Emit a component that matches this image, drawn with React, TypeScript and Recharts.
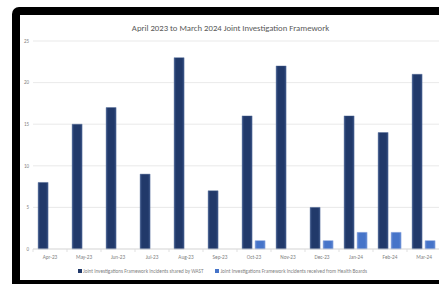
import React from 'react';
import { BarChart, Bar, XAxis, YAxis, CartesianGrid } from 'recharts';

const months = ['Apr-23', 'May-23', 'Jun-23', 'Jul-23', 'Aug-23', 'Sep-23', 'Oct-23', 'Nov-23', 'Dec-23', 'Jan-24', 'Feb-24', 'Mar-24'];
const sharedByWast = [8, 15, 17, 9, 23, 7, 16, 22, 5, 16, 14, 21];
const fromHealthBoards = [0, 0, 0, 0, 0, 0, 1, 0, 1, 2, 2, 1];
const yTicks = [0, 5, 10, 15, 20, 25];
const seriesNames = [
  'Joint Investigations Framework Incidents shared by WAST',
  'Joint Investigations Framework Incidents received from Health Boards',
];
const seriesColors = ['#21396a', '#4674c9'];

const data = months.map((m, i) => ({ month: m, wast: sharedByWast[i], hb: fromHealthBoards[i] }));

const FONT = 'Carlito, "Liberation Sans Narrow", Lato, "Open Sans", sans-serif';

const XTick = (props: any) => {
  const { x, y, payload } = props;
  const off = payload.offset || 0;
  return (
    <g>
      <line x1={x - off} y1={y} x2={x - off} y2={y + 3} stroke="#d9d9d9" strokeWidth={0.8} />
      <text x={x} y={y + 10} textAnchor="middle" fontSize={5.3} fill="#7f7f7f" fontFamily={FONT}>
        {payload.value}
      </text>
    </g>
  );
};

export default function App() {
  return (
    <div style={{ position: 'fixed', left: 0, top: 0, width: 439, height: 285, background: '#fff', overflow: 'hidden' }}>
      <style>{`html,body{margin:0;overflow:hidden;}`}</style>
      {/* frame: left bar, top band, bottom band */}
      <div style={{ position: 'absolute', left: 12, top: 7, width: 40, height: 277, background: '#000', borderTopLeftRadius: 7 }} />
      <div style={{ position: 'absolute', left: 40, top: 7, width: 399, height: 8, background: '#000' }} />
      <div style={{ position: 'absolute', left: 40, top: 280, width: 399, height: 4, background: '#000' }} />
      <div style={{ position: 'absolute', left: 20, top: 15, width: 419, height: 265, background: '#fff', overflow: 'hidden' }}>
        <div style={{ position: 'absolute', left: 0, top: 7, width: 421, textAlign: 'center', fontFamily: FONT, fontSize: 8.7, color: '#595959', lineHeight: '12px' }}>
          April 2023 to March 2024 Joint Investigation Framework
        </div>
        <BarChart
          width={421}
          height={265}
          data={data}
          margin={{ top: 26, right: 0, bottom: 1, left: 0 }}
          barCategoryGap="15%"
          barGap={3}
        >
          <defs>
            <linearGradient id="gDark" x1="0" y1="0" x2="1" y2="0">
              <stop offset="0" stopColor="#3b5588" />
              <stop offset="0.2" stopColor="#21396a" />
              <stop offset="0.8" stopColor="#21396a" />
              <stop offset="1" stopColor="#3b5588" />
            </linearGradient>
            <linearGradient id="gLight" x1="0" y1="0" x2="1" y2="0">
              <stop offset="0" stopColor="#6a8fd6" />
              <stop offset="0.2" stopColor="#4674c9" />
              <stop offset="0.8" stopColor="#4674c9" />
              <stop offset="1" stopColor="#6a8fd6" />
            </linearGradient>
          </defs>
          <CartesianGrid vertical={false} stroke="#e3e3e3" strokeWidth={0.8} />
          <XAxis
            dataKey="month"
            height={30}
            axisLine={{ stroke: '#d9d9d9', strokeWidth: 0.8 }}
            tickLine={false}
            tickSize={0}
            tickMargin={0}
            interval={0}
            tick={<XTick />}
          />
          <YAxis
            width={13}
            domain={[0, 25]}
            ticks={yTicks}
            axisLine={false}
            tickLine={false}
            tickSize={2}
            tick={{ fontSize: 5, fill: '#7f7f7f', fontFamily: FONT }}
          />
          <Bar dataKey="wast" name={seriesNames[0]} fill="url(#gDark)" stroke="#4c6496" strokeWidth={0.4} isAnimationActive={false} />
          <Bar dataKey="hb" name={seriesNames[1]} fill="url(#gLight)" stroke="#7c9ad8" strokeWidth={0.4} isAnimationActive={false} />
        </BarChart>
        <div style={{ position: 'absolute', left: 58, top: 252, display: 'flex', alignItems: 'center', fontFamily: FONT, fontSize: 5.2, color: '#7f7f7f', lineHeight: '8px', whiteSpace: 'nowrap' }}>
          {seriesNames.map((n, i) => (
            <div key={n} style={{ display: 'flex', alignItems: 'center', marginRight: i === 0 ? 12 : 0 }}>
              <span style={{ display: 'inline-block', width: 4, height: 4, background: seriesColors[i], marginRight: 1 }} />
              <span>{n}</span>
            </div>
          ))}
        </div>
      </div>
    </div>
  );
}
